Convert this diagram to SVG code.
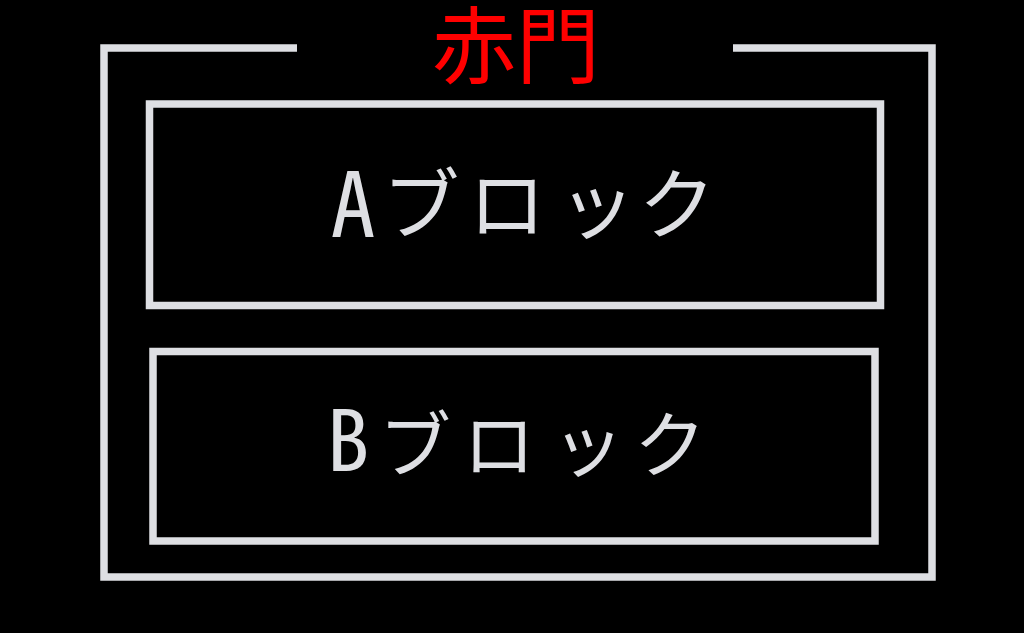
<svg xmlns="http://www.w3.org/2000/svg" width="1024" height="633" viewBox="0 0 1024 633">
<style>
.ln{fill:none;stroke:#dedfe3;stroke-width:7.5;stroke-linejoin:miter}
.lbl{font-family:"Noto Sans Mono CJK JP","Noto Sans CJK JP",sans-serif;fill:#dedfe3;text-anchor:middle}
.ttl{font-family:"Noto Sans CJK JP",sans-serif;font-size:84px;fill:#ff0000}
</style>
<rect width="1024" height="633" fill="#000"/>
<g id="outer">
<path class="ln" d="M297,48 H104 V577 H932 V48 H733"/>
<text class="ttl" x="516" y="77" text-anchor="middle">赤門</text>
</g>
<g id="blockA">
<rect class="ln" x="149.5" y="104" width="731" height="201.5"/>
<text class="lbl" y="237"><tspan x="353" font-size="90">A</tspan><tspan x="421 507 597 677" font-size="77" y="233">ブロック</tspan></text>
</g>
<g id="blockB">
<rect class="ln" x="153" y="351.5" width="722" height="189.5"/>
<text class="lbl" y="471"><tspan x="348" font-size="85">B</tspan><tspan x="415 499 588 670" font-size="72" y="471">ブロック</tspan></text>
</g>
<g id="connectors"/>
</svg>
